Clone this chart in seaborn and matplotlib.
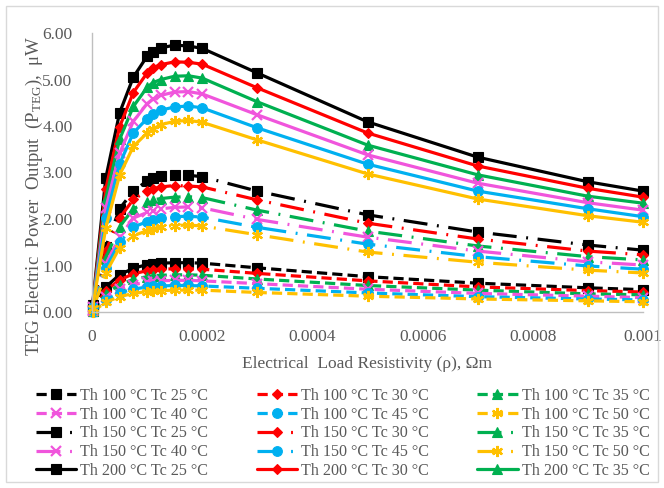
import numpy as np
import pandas as pd
import matplotlib
matplotlib.use("Agg")
import matplotlib.pyplot as plt
import seaborn as sns
from matplotlib.patches import Rectangle

# ---------------- data ----------------
resistivity = [0.000001, 0.000025, 0.00005, 0.000075, 0.0001, 0.00011, 0.000125,
               0.00015, 0.000175, 0.0002, 0.0003, 0.0005, 0.0007, 0.0009, 0.001]

th100_tc25 = [0.03, 0.54, 0.80, 0.94, 1.02, 1.04, 1.05, 1.06, 1.06, 1.05, 0.95, 0.76, 0.62, 0.52, 0.48]
th100_tc30 = [0.03, 0.46, 0.69, 0.82, 0.89, 0.91, 0.92, 0.93, 0.93, 0.92, 0.83, 0.67, 0.54, 0.46, 0.43]
th100_tc35 = [0.02, 0.39, 0.59, 0.70, 0.76, 0.78, 0.79, 0.80, 0.80, 0.79, 0.71, 0.57, 0.47, 0.39, 0.37]
th100_tc40 = [0.02, 0.32, 0.49, 0.59, 0.64, 0.66, 0.67, 0.68, 0.68, 0.67, 0.61, 0.49, 0.40, 0.34, 0.31]
th100_tc45 = [0.01, 0.26, 0.41, 0.49, 0.54, 0.55, 0.56, 0.57, 0.57, 0.56, 0.51, 0.41, 0.33, 0.28, 0.26]
th100_tc50 = [0.01, 0.21, 0.33, 0.40, 0.44, 0.45, 0.46, 0.47, 0.47, 0.47, 0.42, 0.34, 0.28, 0.24, 0.22]

th150_tc25 = [0.08, 1.40, 2.22, 2.60, 2.82, 2.88, 2.92, 2.95, 2.94, 2.91, 2.60, 2.09, 1.72, 1.44, 1.33]
th150_tc30 = [0.07, 1.31, 2.02, 2.42, 2.60, 2.65, 2.69, 2.72, 2.71, 2.69, 2.41, 1.91, 1.57, 1.31, 1.23]
th150_tc35 = [0.06, 1.17, 1.83, 2.22, 2.36, 2.41, 2.44, 2.47, 2.48, 2.46, 2.19, 1.74, 1.42, 1.19, 1.12]
th150_tc40 = [0.05, 1.03, 1.61, 2.02, 2.14, 2.18, 2.22, 2.25, 2.26, 2.24, 1.99, 1.61, 1.31, 1.08, 1.01]
th150_tc45 = [0.05, 0.94, 1.50, 1.83, 1.94, 1.98, 2.02, 2.05, 2.06, 2.04, 1.82, 1.46, 1.19, 0.99, 0.92]
th150_tc50 = [0.04, 0.84, 1.38, 1.64, 1.75, 1.79, 1.83, 1.86, 1.87, 1.85, 1.66, 1.29, 1.07, 0.90, 0.84]

th200_tc25 = [0.15, 2.88, 4.28, 5.05, 5.50, 5.60, 5.68, 5.74, 5.72, 5.67, 5.14, 4.09, 3.33, 2.80, 2.60]
th200_tc30 = [0.13, 2.64, 3.98, 4.72, 5.14, 5.25, 5.32, 5.38, 5.37, 5.33, 4.82, 3.85, 3.14, 2.66, 2.47]
th200_tc35 = [0.12, 2.44, 3.71, 4.42, 4.83, 4.93, 5.00, 5.07, 5.08, 5.03, 4.52, 3.59, 2.95, 2.49, 2.34]
th200_tc40 = [0.11, 2.23, 3.41, 4.10, 4.48, 4.57, 4.66, 4.73, 4.74, 4.69, 4.24, 3.38, 2.77, 2.35, 2.19]
th200_tc45 = [0.10, 2.02, 3.18, 3.85, 4.16, 4.25, 4.34, 4.41, 4.43, 4.39, 3.96, 3.18, 2.60, 2.22, 2.05]
th200_tc50 = [0.09, 1.81, 2.94, 3.56, 3.85, 3.93, 4.03, 4.10, 4.12, 4.08, 3.70, 2.97, 2.43, 2.07, 1.93]

hot_temps = [100, 150, 200]
cold_temps = [25, 30, 35, 40, 45, 50]
series_values = [th100_tc25, th100_tc30, th100_tc35, th100_tc40, th100_tc45, th100_tc50,
                 th150_tc25, th150_tc30, th150_tc35, th150_tc40, th150_tc45, th150_tc50,
                 th200_tc25, th200_tc30, th200_tc35, th200_tc40, th200_tc45, th200_tc50]

x_ticks = [0, 0.0002, 0.0004, 0.0006, 0.0008, 0.001]
x_tick_labels = ["0", "0.0002", "0.0004", "0.0006", "0.0008", "0.001"]
y_ticks = [0, 1, 2, 3, 4, 5, 6]
y_tick_labels = ["0.00", "1.00", "2.00", "3.00", "4.00", "5.00", "6.00"]

# ---------------- styles ----------------
colors = ["#000000", "#FF0000", "#00B050", "#F055DC", "#00B0F0", "#FFC000"]
markers = ["s", "D", "^", "x", "o", (6, 2, 0)]
msizes = [6.5, 5.0, 7.0, 6.5, 7.0, 8.0]
dash_styles = {100: (0, (3.2, 1.6)), 150: (0, (7.5, 3.0, 0.6, 3.0)), 200: "-"}

rows = []
for i, th in enumerate(hot_temps):
    for j, tc in enumerate(cold_temps):
        vals = series_values[i * len(cold_temps) + j]
        for xv, yv in zip(resistivity, vals):
            rows.append({"x": xv, "y": yv, "Th": th, "Tc": tc,
                         "label": f"Th {th} °C Tc {tc} °C"})
df = pd.DataFrame(rows)

sns.set_theme(style="white")
plt.rcParams["font.family"] = ["Liberation Serif", "DejaVu Serif"]
plt.rcParams["mathtext.fontset"] = "custom"
plt.rcParams["mathtext.rm"] = "Liberation Serif"
plt.rcParams["mathtext.it"] = "Liberation Serif:italic"

fig = plt.figure(figsize=(6.64, 4.88), dpi=100)
ax = fig.add_axes([92 / 664, 1 - 312 / 488, (643 - 92) / 664, (312 - 33) / 488])

handles = {}
for i, th in enumerate(hot_temps):
    for j, tc in enumerate(cold_temps):
        sub = df[(df.Th == th) & (df.Tc == tc)]
        sns.lineplot(data=sub, x="x", y="y", ax=ax, color=colors[j],
                     linestyle=dash_styles[th], linewidth=2.3,
                     marker=markers[j], markersize=msizes[j],
                     markeredgewidth=1.6 if j in (3, 5) else 0.8,
                     markeredgecolor=colors[j], markerfacecolor=colors[j],
                     legend=False, clip_on=False, sort=False)
        handles[(th, tc)] = ax.lines[-1]

ax.set_xlim(0, 0.001)
ax.set_ylim(0, 6)
ax.set_xticks(x_ticks)
ax.set_xticklabels(x_tick_labels)
ax.set_yticks(y_ticks)
ax.set_yticklabels(y_tick_labels)
ax.tick_params(axis="both", length=0, labelcolor="#595959", labelsize=12.5)
ax.tick_params(axis="y", pad=14)
ax.tick_params(axis="x", pad=12)
for s in ["top", "right"]:
    ax.spines[s].set_visible(False)
for s in ["left", "bottom"]:
    ax.spines[s].set_color("#BFBFBF")
    ax.spines[s].set_linewidth(1.0)
ax.grid(False)

ax.set_xlabel("Electrical  Load Resistivity (ρ), Ωm", fontsize=12.5, color="#595959", labelpad=8)
ax.set_ylabel(r"TEG Electric  Power  Output  (P$_{\mathrm{TEG}}$),  μW", fontsize=13.5, color="#595959")
ax.yaxis.set_label_coords(-0.086, 0.418)

# legend: first 15 entries, row-major order shown in 3 columns
order = [(th, tc) for th in hot_temps for tc in cold_temps][:15]
ncol, nrow = 3, 5
col_major = [order[r * ncol + c] for c in range(ncol) for r in range(nrow) if r * ncol + c < len(order)]
leg_handles = [handles[k] for k in col_major]
leg_labels = [f"Th {k[0]} °C Tc {k[1]} °C" for k in col_major]
leg = fig.legend(leg_handles, leg_labels, ncol=3, loc="upper left",
                 bbox_to_anchor=(36 / 664, 1 - 388 / 488), bbox_transform=fig.transFigure,
                 frameon=False, borderpad=0, borderaxespad=0, fontsize=11.6,
                 handlelength=2.5, handletextpad=0.25, columnspacing=3.0,
                 labelspacing=0.17)
for t in leg.get_texts():
    t.set_color("#595959")

fig.patches.append(Rectangle((6 / 664, 6 / 488), 652 / 664, 476 / 488,
                             transform=fig.transFigure, fill=False,
                             edgecolor="#D9D9D9", linewidth=1.0))

fig.savefig("out.png", dpi=100)
